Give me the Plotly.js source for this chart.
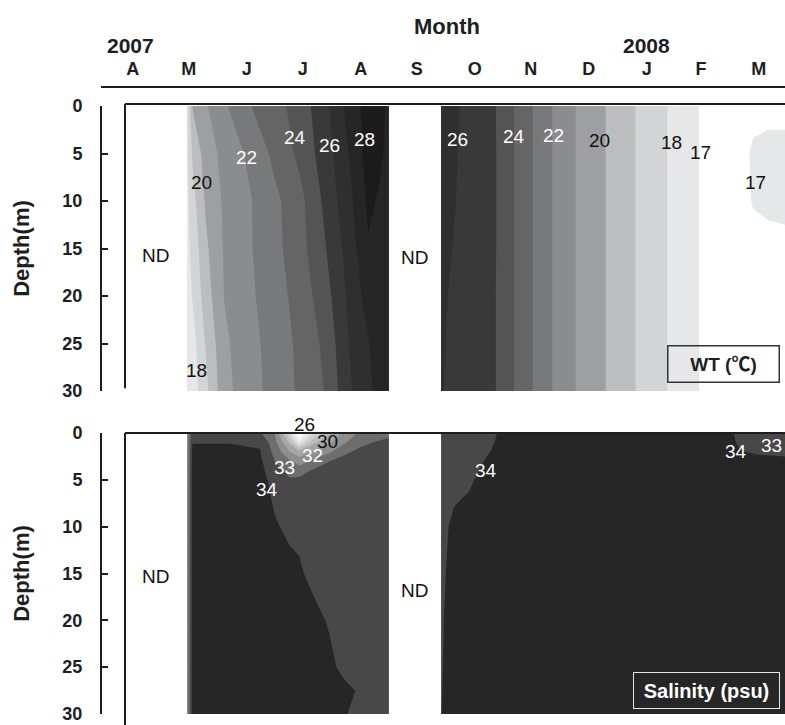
<!DOCTYPE html>
<html>
<head>
<meta charset="utf-8">
<script src="https://cdn.plot.ly/plotly-3.0.1.min.js"></script>
<style>html,body{margin:0;padding:0;background:#fff}</style>
</head>
<body>
<div id="chart" style="width:785px;height:725px"></div>
<script>
// ---- month axis ----
const monthStarts = ['2007-04-01','2007-05-01','2007-06-01','2007-07-01','2007-08-01','2007-09-01',
  '2007-10-01','2007-11-01','2007-12-01','2008-01-01','2008-02-01','2008-03-01','2008-04-01'];
const monthMids = ['2007-04-18','2007-05-18','2007-06-18','2007-07-18','2007-08-18','2007-09-17',
  '2007-10-18','2007-11-17','2007-12-18','2008-01-18','2008-02-16','2008-03-18'];
const monthLetters = ['A','M','J','J','A','S','O','N','D','J','F','M'];
const depthTicks = [0, 5, 10, 15, 20, 25, 30];

// ---- water temperature (deg C) ----
const wtDepth = [0, 5, 10, 15, 20, 25, 30];
const wtDatesSummer = ['2007-05-17','2007-05-20','2007-05-27','2007-06-06','2007-06-20','2007-07-03',
  '2007-07-16','2007-07-30','2007-08-12','2007-08-22','2007-08-28','2007-09-02'];
const wtSummer = [
  [17.8, 20.06, 20.88, 21.86, 22.98, 23.63, 24.43, 25.71, 27.42, 28.4, 28.3, 27.8],
  [17.8, 19.17, 20.44, 21.33, 22.22, 23.26, 24.22, 25.5, 27.05, 28.4, 28.15, 27.8],
  [17.7, 18.6, 20.12, 21.16, 21.94, 22.77, 23.64, 25.23, 26.75, 28.2, 27.9, 27.7],
  [17.7, 18.3, 19.8, 21.1, 21.94, 22.7, 23.6, 24.94, 26.45, 27.9, 27.7, 27.6],
  [17.6, 18.05, 19.5, 21.03, 21.84, 22.57, 23.36, 24.58, 26.25, 27.4, 27.5, 27.5],
  [17.5, 17.6, 19.05, 20.8, 21.69, 22.43, 23.19, 24.23, 26.05, 26.95, 27.4, 27.4],
  [17.4, 17.5, 18.7, 20.69, 21.63, 22.38, 23.14, 24.05, 25.86, 26.8, 27.3, 27.3]
];
const wtDatesWinter = ['2007-09-30','2007-10-11','2007-10-25','2007-11-03','2007-11-13','2007-11-23',
  '2007-12-04','2007-12-18','2008-01-05','2008-01-19','2008-02-08','2008-02-22','2008-03-07',
  '2008-03-15','2008-03-23','2008-04-01'];
const wtWinter = [
  [26.9, 25.9, 25.45, 24.5, 23.5, 22.5, 21.5, 20.5, 19.5, 18.5, 17.5, 16.5, 16.4, 16.6, 16.7, 16.7],
  [26.9, 25.8, 25.5, 24.5, 23.5, 22.5, 21.5, 20.5, 19.5, 18.5, 17.5, 16.5, 16.4, 17.2, 17.3, 17.3],
  [26.8, 25.7, 25.5, 24.5, 23.5, 22.5, 21.5, 20.5, 19.5, 18.5, 17.5, 16.5, 16.4, 17.1, 17.2, 17.2],
  [26.6, 25.5, 25.5, 24.5, 23.5, 22.5, 21.5, 20.5, 19.5, 18.5, 17.5, 16.5, 16.4, 16.5, 16.7, 16.8],
  [26.3, 25.4, 25.45, 24.5, 23.5, 22.5, 21.5, 20.5, 19.5, 18.5, 17.5, 16.5, 16.4, 16.4, 16.4, 16.4],
  [26.2, 25.3, 25.45, 24.5, 23.5, 22.5, 21.5, 20.5, 19.5, 18.5, 17.5, 16.5, 16.4, 16.4, 16.4, 16.4],
  [26.1, 25.4, 25.45, 24.5, 23.5, 22.5, 21.5, 20.5, 19.5, 18.5, 17.5, 16.5, 16.4, 16.4, 16.4, 16.4]
];
// band fills: below 17, 17-18, ..., 27-28, above 28
const wtShades = ['#ffffff','#e6e7e9','#d3d4d6','#bcbdbf','#9e9fa2','#8b8c8f','#78797b',
  '#656566','#545455','#393939','#2f2f2f','#262626','#1b1b1b'];

// ---- salinity (psu) ----
const salDepth = [0, 1, 2, 3, 4, 5, 10, 15, 20, 25, 27.5, 30];
const salDatesSummer = ['2007-05-17','2007-05-20','2007-06-09','2007-06-25','2007-07-03','2007-07-11',
  '2007-07-16','2007-07-24','2007-08-01','2007-08-09','2007-08-17','2007-08-25','2007-09-02'];
const salSummer = [
  [31.5, 33.75, 33.75, 33.1, 31.95, 27.9, 24.8, 28.2, 29.7, 31.2, 32.1, 32.5, 32.8],
  [31.5, 33.95, 33.95, 33.9, 32.35, 29.8, 27.1, 29.8, 30.8, 31.85, 32.7, 33.02, 33.2],
  [31.5, 34.3, 34.3, 34.05, 32.7, 31.02, 30.4, 31.2, 31.8, 32.8, 33.2, 33.3, 33.4],
  [31.5, 34.35, 34.35, 34.2, 33.02, 32.1, 31.5, 32.2, 32.98, 33.3, 33.4, 33.5, 33.55],
  [31.5, 34.4, 34.4, 34.3, 33.4, 32.7, 32.55, 33.15, 33.3, 33.5, 33.5, 33.6, 33.6],
  [31.5, 34.4, 34.4, 34.3, 33.7, 33.1, 33.2, 33.5, 33.5, 33.6, 33.6, 33.65, 33.65],
  [31.5, 34.4, 34.4, 34.4, 34.1, 33.8, 33.75, 33.7, 33.7, 33.7, 33.7, 33.7, 33.7],
  [31.5, 34.4, 34.4, 34.4, 34.4, 34.3, 34.15, 33.7, 33.75, 33.75, 33.75, 33.75, 33.75],
  [31.5, 34.4, 34.4, 34.4, 34.4, 34.4, 34.35, 34.3, 33.9, 33.8, 33.8, 33.75, 33.75],
  [31.5, 34.4, 34.4, 34.4, 34.4, 34.4, 34.4, 34.35, 34.3, 33.7, 33.75, 33.75, 33.75],
  [31.5, 34.4, 34.4, 34.4, 34.4, 34.4, 34.4, 34.4, 34.35, 34.3, 33.9, 33.75, 33.75],
  [31.5, 34.4, 34.4, 34.4, 34.4, 34.4, 34.4, 34.4, 34.35, 34.1, 33.7, 33.75, 33.75]
];
const salDatesWinter = ['2007-09-30','2007-10-07','2007-10-15','2007-10-26','2007-11-05','2007-12-23',
  '2008-02-26','2008-03-07','2008-03-18','2008-04-01'];
const salWinter = [
  [33.7, 33.7, 33.7, 33.8, 34.3, 34.4, 34.3, 33.9, 33.3, 33.02],
  [33.7, 33.7, 33.7, 33.9, 34.3, 34.4, 34.35, 33.95, 33.6, 33.5],
  [33.7, 33.7, 33.72, 33.99, 34.3, 34.4, 34.4, 34.05, 33.9, 33.85],
  [33.7, 33.7, 33.75, 34.1, 34.35, 34.4, 34.4, 34.3, 34.2, 34.15],
  [33.7, 33.75, 33.8, 34.2, 34.4, 34.4, 34.4, 34.4, 34.4, 34.4],
  [33.7, 33.8, 33.9, 34.3, 34.4, 34.4, 34.4, 34.4, 34.4, 34.4],
  [33.8, 34.15, 34.3, 34.4, 34.4, 34.4, 34.4, 34.4, 34.4, 34.4],
  [33.85, 34.27, 34.4, 34.4, 34.4, 34.4, 34.4, 34.4, 34.4, 34.4],
  [33.9, 34.37, 34.4, 34.4, 34.4, 34.4, 34.4, 34.4, 34.4, 34.4],
  [33.92, 34.45, 34.45, 34.45, 34.45, 34.4, 34.4, 34.4, 34.4, 34.4],
  [33.95, 34.5, 34.5, 34.5, 34.5, 34.4, 34.4, 34.4, 34.4, 34.4],
  [33.99, 34.5, 34.5, 34.5, 34.5, 34.4, 34.4, 34.4, 34.4, 34.4]
];
// band fills: below 26, 26-27, ..., 33-34, above 34
const salShades = ['#ffffff','#efefef','#e0e0e0','#cfcfcf','#bcbcbc','#a6a6a6','#8e8e8e',
  '#6e6e6e','#484848','#262626'];

// ---- contour line labels ----
const wtLabels = [
  ['2007-05-25', 8.1, '20', '#111'], ['2007-06-18', 5.4, '22', '#fff'],
  ['2007-07-14', 3.3, '24', '#fff'], ['2007-08-01', 4.2, '26', '#fff'],
  ['2007-08-20', 3.5, '28', '#fff'], ['2007-05-22', 27.8, '18', '#111'],
  ['2007-10-09', 3.5, '26', '#fff'], ['2007-11-08', 3.2, '24', '#fff'],
  ['2007-11-29', 3.1, '22', '#fff'], ['2007-12-24', 3.6, '20', '#111'],
  ['2008-01-31', 3.8, '18', '#111'], ['2008-02-16', 4.9, '17', '#111'],
  ['2008-03-16', 8.1, '17', '#111']
];
const salLabels = [
  ['2007-07-31', 0.95, '30', '#111'], ['2007-07-23', 2.4, '32', '#fff'],
  ['2007-07-08', 3.7, '33', '#fff'], ['2007-06-29', 6.0, '34', '#fff'],
  ['2007-10-24', 4.0, '34', '#fff'], ['2008-03-06', 2.0, '34', '#fff'],
  ['2008-03-25', 1.3, '33', '#fff']
];

const FONT = 'Liberation Sans, Arial, Helvetica, sans-serif';
const INK = '#1e1e1e';

function scaleFrom(shades) {
  return shades.map((c, i) => [i / (shades.length - 1), c]);
}
function contourTrace(x, y, z, start, end, shades, xa, ya) {
  return {
    type: 'contour', x: x, y: y, z: z, xaxis: xa, yaxis: ya,
    autocontour: false,
    contours: {start: start, end: end, size: 1, coloring: 'fill', showlines: false},
    line: {width: 0, smoothing: 0},
    colorscale: scaleFrom(shades), showscale: false, hoverinfo: 'skip'
  };
}

const data = [
  contourTrace(wtDatesSummer, wtDepth, wtSummer, 17, 28, wtShades, 'x', 'y'),
  contourTrace(wtDatesWinter, wtDepth, wtWinter, 17, 28, wtShades, 'x', 'y'),
  contourTrace(salDatesSummer, salDepth, salSummer, 26, 34, salShades, 'x2', 'y2'),
  contourTrace(salDatesWinter, salDepth, salWinter, 26, 34, salShades, 'x2', 'y2')
];

const H = 725;
const topDomain = [1 - 391 / H, 1 - 106 / H];
const botDomain = [1 - 714 / H, 1 - 433 / H];
const axisY = 1 - 87 / H;
const frameX = 24 / 684;

const dateRange = ['2007-04-01', '2008-04-01'];

function depthAxis(domain) {
  return {
    domain: domain, range: [30, 0], anchor: 'free', position: 0,
    showline: true, linecolor: INK, linewidth: 2,
    ticks: 'inside', ticklen: 6, tickwidth: 2, tickcolor: INK,
    tickmode: 'array', tickvals: depthTicks, ticklabelstandoff: 14, ticklabeloverflow: 'allow',
    tickfont: {family: FONT, size: 18, color: INK, weight: 'bold'},
    title: {text: 'Depth(m)', font: {family: FONT, size: 22, color: INK, weight: 'bold'}, standoff: 26},
    showgrid: false, zeroline: false, fixedrange: true
  };
}
function tickAxis(dir, len) {
  return {
    type: 'date', overlaying: 'x', range: dateRange, anchor: 'free', position: axisY, side: 'top',
    ticks: dir, ticklen: len, tickwidth: 2, tickcolor: INK,
    tickmode: 'array', tickvals: monthStarts, showticklabels: false,
    showline: false, showgrid: false, zeroline: false, fixedrange: true
  };
}

const annotations = [];
function label(xref, yref, x, y, text, color, size, weight) {
  annotations.push({xref: xref, yref: yref, x: x, y: y, text: text, showarrow: false,
    xanchor: 'center', yanchor: 'middle',
    font: {family: FONT, size: size || 19, color: color, weight: weight || 'normal'}});
}
wtLabels.forEach(l => label('x', 'y', l[0], l[1], l[2], l[3]));
salLabels.forEach(l => label('x2', 'y2', l[0], l[1], l[2], l[3]));
label('x2', 'paper', '2007-07-19', 1 - 425 / H, '26', '#111');

// no-data gaps
label('x', 'y', '2007-04-30', 15.7, 'ND', '#111', 19);
label('x', 'y', '2007-09-16', 15.9, 'ND', '#111', 19);
label('x2', 'y2', '2007-04-30', 15.3, 'ND', '#111', 19);
label('x2', 'y2', '2007-09-16', 16.8, 'ND', '#111', 19);

// years and axis title
label('x', 'paper', '2007-04-17', 1 - 45 / H, '2007', INK, 21, 'bold');
label('x', 'paper', '2008-01-18', 1 - 45 / H, '2008', INK, 21, 'bold');
label('x', 'paper', '2007-10-03', 1 - 27 / H, 'Month', INK, 22, 'bold');

// panel captions
annotations.push({xref: 'paper', yref: 'paper', x: (723 - 101) / 684, y: 1 - 363.5 / H,
  text: 'WT (℃)', showarrow: false, xanchor: 'center', yanchor: 'middle',
  width: 108, height: 33, borderpad: 1, bordercolor: '#333', borderwidth: 1.5,
  font: {family: FONT + ', Noto Sans CJK JP', size: 19, color: INK, weight: 'bold'}});
annotations.push({xref: 'paper', yref: 'paper', x: (706.5 - 101) / 684, y: 1 - 690.5 / H,
  text: 'Salinity (psu)', showarrow: false, xanchor: 'center', yanchor: 'middle',
  width: 143, height: 33, borderpad: 1, bordercolor: '#e6e6e6', borderwidth: 1,
  font: {family: FONT, size: 20, color: '#ffffff', weight: 'bold'}});

const frame = {color: INK, width: 2};
const shapes = [
  {type: 'line', xref: 'paper', yref: 'y domain', x0: frameX, x1: frameX, y0: 0.01, y1: 1.007, line: frame, layer: 'above'},
  {type: 'line', xref: 'paper', yref: 'y domain', x0: frameX, x1: 1, y0: 1.007, y1: 1.007, line: frame, layer: 'above'},
  {type: 'line', xref: 'paper', yref: 'y2 domain', x0: frameX, x1: frameX, y0: -0.04, y1: 1.0, line: frame, layer: 'above'},
  {type: 'line', xref: 'paper', yref: 'y2 domain', x0: frameX, x1: 1, y0: 1.0, y1: 1.0, line: frame, layer: 'above'}
];

const layout = {
  width: 785, height: 725,
  margin: {l: 101, r: 0, t: 0, b: 0},
  paper_bgcolor: '#ffffff', plot_bgcolor: '#ffffff',
  showlegend: false, hovermode: false,
  xaxis: {
    type: 'date', range: dateRange, domain: [0, 1], anchor: 'free', position: axisY, side: 'top',
    showline: true, linecolor: INK, linewidth: 2, ticks: '',
    tickmode: 'array', tickvals: monthMids, ticktext: monthLetters, ticklabelstandoff: 4,
    tickfont: {family: FONT, size: 18, color: INK, weight: 'bold'},
    showgrid: false, zeroline: false, fixedrange: true
  },
  xaxis2: {type: 'date', range: dateRange, domain: [0, 1], anchor: 'y2', visible: false, fixedrange: true},
  xaxis3: tickAxis('outside', 7),
  xaxis4: tickAxis('inside', 4),
  yaxis: depthAxis(topDomain),
  yaxis2: depthAxis(botDomain),
  annotations: annotations,
  shapes: shapes
};

Plotly.newPlot('chart', data, layout, {staticPlot: true, displayModeBar: false});
</script>
</body>
</html>
